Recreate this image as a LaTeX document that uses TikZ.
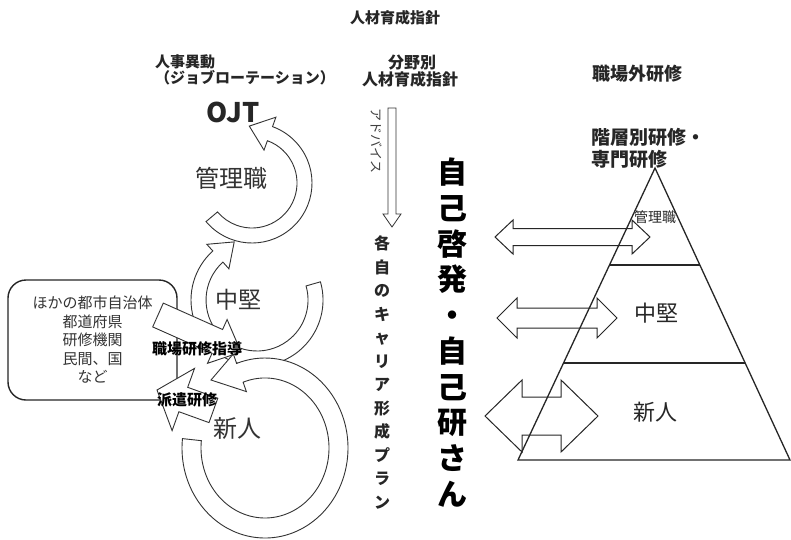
\documentclass[tikz,border=0pt]{standalone}
\usepackage{fontspec}
\setmainfont{Noto Sans CJK JP}
\newcommand\fsz[2]{\fontsize{#1pt}{#2pt}\selectfont}
\newcommand\dblarrow[6]{% x1 x2 y headlen headhalf shafthalf
  \draw[dblarr] (#1,#3) -- ++(#4,-#5) -- ++(0,#5-#6) -- ({#2-#4},{#3-#6}) -- ++(0,#6-#5) -- (#2,#3)
    -- ++(-#4,#5) -- ++(0,#6-#5) -- ({#1+#4},{#3+#6}) -- ++(0,#5-#6) -- cycle;}
\tikzset{
  band/.style={draw=black!80, line width=0.9pt, fill=white},
  blockarr/.style={draw=black!80, line width=0.9pt, fill=white},
  dblarr/.style={draw=black!85, line width=1pt},
  pyr/.style={draw=black!85, line width=1.3pt},
  lbl/.style={inner sep=0pt, text=black!85},
  head/.style={lbl, font=\bfseries\fsz{15}{16}},
  ring/.style={lbl, text=black!80},
}
\begin{document}
\begin{tikzpicture}[x=1pt,y=-1pt]
\useasboundingbox[fill=white] (0,0) rectangle (791,539);

% ---- titles
\node[head] (title) at (395,18) {人材育成指針};
\node[head, anchor=west] (jinji) at (155,62) {人事異動};
\node[head, anchor=west] (rot) at (155,78) {（ジョブローテーション）};
\node[lbl, font=\bfseries\fsz{27}{28}] (ojt) at (233,112) {OJT};
\node[head, font=\bfseries\fsz{16}{16}] (bunya) at (412,63) {分野別};
\node[head, font=\bfseries\fsz{16}{16}] (shishin) at (410,79) {人材育成指針};
\node[head, font=\bfseries\fsz{18}{18}] (gai) at (637,74) {職場外研修};
\node[lbl, anchor=west, align=left, font=\bfseries\fsz{19}{22}] (kaiso) at (591,148) {階層別研修・\\専門研修};

% ---- box
\node[draw=black!85, line width=1.4pt, rounded corners=18pt, minimum width=169pt, minimum height=120pt,
      align=center, font=\fsz{15}{18.5}, text=black!80, inner sep=0pt] (box) at (92.5,340)
      {ほかの都市自治体\\都道府県\\研修機関\\民間、国\\など};

% ---- spiral rings
% 中堅
\draw[band] (257,300) ++(-16:66) arc[start angle=-16, end angle=228, radius=66]
  -- (206.8,244.3) -- (234.2,241.9) -- (228.9,268.8) -- (222.9,262.1)
  arc[start angle=228, end angle=-16, radius=51] -- cycle;
% 管理職
\draw[band] (252,183) ++(140:60) arc[start angle=140, end angle=-70, radius=60]
  -- (275.9,117.2) -- (249.3,126.1) -- (264.0,150.1) -- (267.4,140.7)
  arc[start angle=-70, end angle=140, radius=45] -- cycle;
% 新人
\draw[band] (265,448) ++(186:83 and 90) arc[start angle=186, end angle=-110, x radius=83, y radius=90]
  -- (233.3,353.9) -- (211,380) -- (246.4,391.6) -- (243.1,382.2)
  arc[start angle=-110, end angle=186, x radius=64, y radius=70] -- cycle;

% ---- straight block arrows
\draw[blockarr] (163.3,303.1) -- (222.6,329.5) -- (227.1,319.5) -- (241,352) -- (207.5,363.3)
  -- (212.0,353.3) -- (152.7,326.9) -- cycle;
\draw[blockarr] (157,390) -- (194.5,368.4) -- (187.7,387.3) -- (217.8,398.2) -- (209.0,422.6)
  -- (178.9,411.7) -- (172.1,430.6) -- cycle;

\node[ring, font=\fsz{24}{24}] (kanri) at (231,178) {管理職};
\node[ring, font=\fsz{23}{23}] (chuken) at (238,300) {中堅};
\node[ring, font=\fsz{24}{24}] (shinjin) at (237,428) {新人};
\node[lbl, text=black, font=\bfseries\fsz{15}{15}] (shido) at (197,349) {職場研修指導};
\node[lbl, text=black, font=\bfseries\fsz{15}{15}] (haken) at (187,400) {派遣研修};

% ---- middle column
\draw[draw=black!80, line width=0.8pt] (388,108) -- (396,108) -- (396,214) -- (401,214) -- (392,227)
  -- (383,214) -- (388,214) -- cycle;
\node[lbl, rotate=-90, font=\fsz{13}{13}, text=black!75] (adv) at (377,141) {アドバイス};
\node[lbl, align=center, font=\bfseries\fsz{16}{23.5}] (plan) at (382,372.5)
  {各\\自\\の\\キ\\ャ\\リ\\ア\\形\\成\\プ\\ラ\\ン};
\node[lbl, align=center, font=\bfseries\fsz{30}{35.7}, text=black] (jiko) at (452,332.6)
  {自\\己\\啓\\発\\・\\自\\己\\研\\さ\\ん};

% ---- pyramid
\draw[pyr] (655,168) -- (790,460) -- (518,460) -- cycle;
\draw[pyr] (609.5,265) -- (699.8,265);
\draw[pyr] (563.5,363) -- (745.2,363);
\node[lbl, font=\fsz{14}{14}] (pk) at (655,217) {管理職};
\node[lbl, font=\fsz{22}{22}] (pc) at (656,313) {中堅};
\node[lbl, font=\fsz{22}{22}] (ps) at (655,412) {新人};

% ---- double arrows
\dblarrow{495}{650}{237}{18}{17}{8.5}
\dblarrow{497}{617}{318}{20}{20}{10}
\dblarrow{485}{598}{416}{37}{36}{19}
\end{tikzpicture}
\end{document}
